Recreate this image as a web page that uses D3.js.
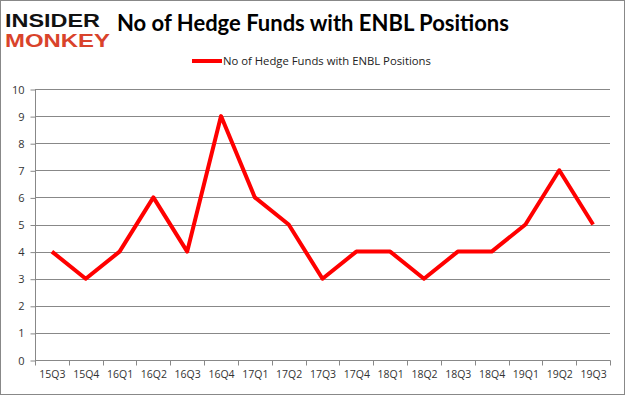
<!DOCTYPE html>
<html><head><meta charset="utf-8">
<script src="https://cdn.jsdelivr.net/npm/d3@7"></script>
<style>body{margin:0;background:#fff}svg{display:block}</style>
</head><body>
<script>
const categories = ["15Q3","15Q4","16Q1","16Q2","16Q3","16Q4","17Q1","17Q2","17Q3","17Q4","18Q1","18Q2","18Q3","18Q4","19Q1","19Q2","19Q3"];
const values = [4,3,4,6,4,9,6,5,3,4,4,3,4,4,5,7,5];
const yTicks = [0,1,2,3,4,5,6,7,8,9,10];
const seriesName = "No of Hedge Funds with ENBL Positions";
const titleText = "No of Hedge Funds with ENBL Positions";

const W = 625, H = 395;
const svg = d3.select("body").append("svg").attr("width", W).attr("height", H);
svg.append("rect").attr("x",0.5).attr("y",0.5).attr("width",W-1).attr("height",H-1)
  .attr("fill","#fff").attr("stroke","#888");

const pLeft = 35, pRight = 610, pTop = 89, pBottom = 360;
const x = d3.scaleBand().domain(categories).range([pLeft, pRight]);
const y = d3.scaleLinear().domain([0,10]).range([pBottom, pTop]);

// gridlines
svg.append("g").selectAll("line").data(yTicks).join("line")
  .attr("x1", pLeft).attr("x2", pRight)
  .attr("y1", d => Math.round(y(d))+0.5).attr("y2", d => Math.round(y(d))+0.5)
  .attr("stroke", "#888").attr("stroke-width", 1);

// y axis
const yAxis = d3.axisLeft(y).tickValues(yTicks).tickSize(5).tickPadding(6);
const gy = svg.append("g").attr("transform", `translate(${pLeft+0.5},0.5)`).call(yAxis);
gy.select(".domain").attr("stroke","#888").attr("d", `M0,${pTop}V${pBottom}`);
gy.selectAll(".tick line").attr("stroke","#888");
gy.selectAll("text").attr("font-family","'Open Sans', 'Noto Sans', sans-serif").attr("font-size",11).attr("fill","#333");

// x axis
const xAxis = d3.axisBottom(x).tickSize(0).tickPadding(10);
const gx = svg.append("g").attr("transform", `translate(0.5,${pBottom+0.5})`).call(xAxis);
gx.select(".domain").attr("stroke","#888").attr("d", `M${pLeft},0H${pRight}`);
gx.selectAll("text").attr("font-family","'Open Sans', 'Noto Sans', sans-serif").attr("font-size",10.5).attr("fill","#333");
// boundary ticks
const bounds = categories.map(c => x(c)).concat([pRight]);
gx.append("g").selectAll("line").data(bounds).join("line")
  .attr("x1", d => Math.round(d)).attr("x2", d => Math.round(d))
  .attr("y1", 0).attr("y2", 5).attr("stroke","#888");

// line
const line = d3.line().x((d,i) => x(categories[i]) + x.bandwidth()/2).y(d => y(d));
svg.append("path").datum(values).attr("d", line)
  .attr("fill","none").attr("stroke","#ff0000").attr("stroke-width",4).attr("stroke-linejoin","round");

// title
svg.append("text").attr("x", 117).attr("y", 31).text(titleText)
  .attr("font-family","Lato, 'Open Sans', sans-serif").attr("font-weight","bold").attr("font-size",22).attr("fill","#000");

// legend
svg.append("line").attr("x1",192).attr("x2",222).attr("y1",61).attr("y2",61)
  .attr("stroke","#ff0000").attr("stroke-width",4);
svg.append("text").attr("x",223).attr("y",65).text(seriesName)
  .attr("font-family","'Open Sans', 'Noto Sans', sans-serif").attr("font-size",11.3).attr("fill","#222");

// logo
svg.append("text").attr("x",5).attr("y",27).text("INSIDER")
  .attr("font-family","'Liberation Sans', sans-serif").attr("font-weight","bold").attr("font-size",17.5)
  .attr("textLength",95).attr("lengthAdjust","spacingAndGlyphs").attr("fill","#111");
svg.append("text").attr("x",5).attr("y",47).text("MONKEY")
  .attr("font-family","'Liberation Sans', sans-serif").attr("font-weight","bold").attr("font-size",17.5)
  .attr("textLength",105).attr("lengthAdjust","spacingAndGlyphs").attr("fill","#d9432b");
</script>
</body></html>
